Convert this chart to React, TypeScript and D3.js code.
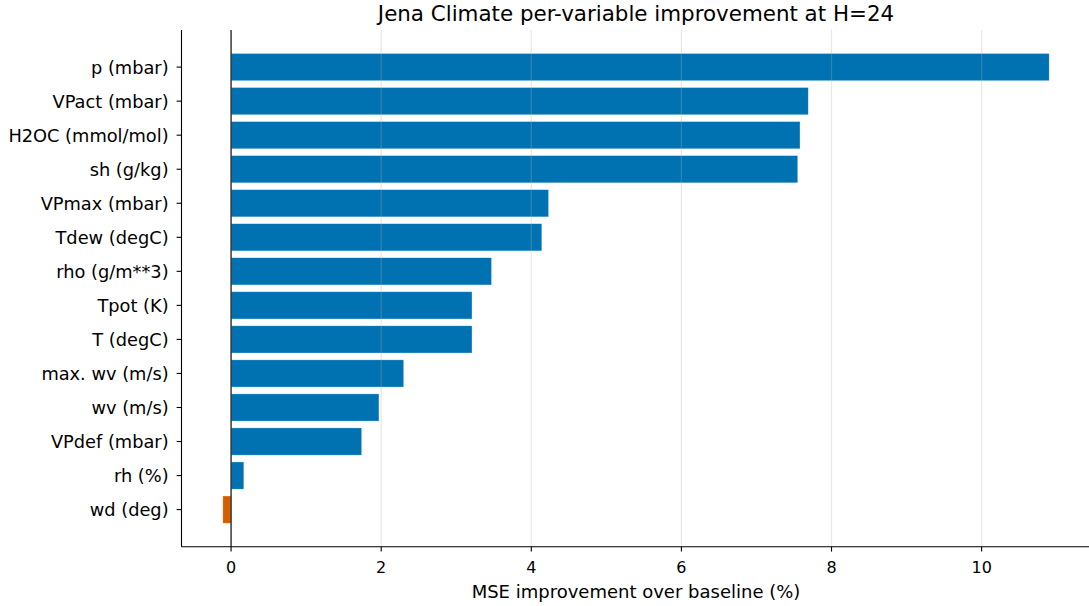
import React from "react";
import * as d3 from "d3";

// Per-variable MSE improvement (%) at horizon H=24, sorted largest first
const variables: string[] = [
  "p (mbar)",
  "VPact (mbar)",
  "H2OC (mmol/mol)",
  "sh (g/kg)",
  "VPmax (mbar)",
  "Tdew (degC)",
  "rho (g/m**3)",
  "Tpot (K)",
  "T (degC)",
  "max. wv (m/s)",
  "wv (m/s)",
  "VPdef (mbar)",
  "rh (%)",
  "wd (deg)",
];
const improvements: number[] = [
  10.9, 7.69, 7.58, 7.55, 4.23, 4.14, 3.47, 3.21, 3.21, 2.3, 1.97, 1.74, 0.17, -0.11,
];
const xTicks: number[] = [0, 2, 4, 6, 8, 10];

const W = 1089;
const H = 606;
const FONT = "DejaVu Sans, sans-serif";
const POS = "#0072B2";
const NEG = "#D55E00";

export default function App() {
  const left = 181.5;
  const right = 1090.5;
  const top = 30;
  const bottom = 546.7;

  const lo = Math.min(0, d3.min(improvements)!);
  const hi = Math.max(0, d3.max(improvements)!);
  const pad = (hi - lo) * 0.05;
  const x = d3.scaleLinear().domain([lo - pad, hi + pad]).range([left, right]);

  const barH = 0.8;
  const n = variables.length;
  const yPad = (n - 1 + barH) * 0.05;
  const y = d3
    .scaleLinear()
    .domain([-barH / 2 - yPad, n - 1 + barH / 2 + yPad])
    .range([top, bottom]);

  const tickLen = 4.9;

  return (
    <svg width={W} height={H} style={{ position: "absolute", left: 0, top: 0 }} fontFamily={FONT}>
      <rect width={W} height={H} fill="white" />
      <g>
        {improvements.map((v, i) => {
          const x0 = x(Math.min(0, v));
          const x1 = x(Math.max(0, v));
          const yc = y(i);
          const h = y(barH / 2) - y(-barH / 2);
          return (
            <rect
              key={variables[i]}
              x={x0}
              y={yc - h / 2}
              width={x1 - x0}
              height={h}
              fill={v >= 0 ? POS : NEG}
              stroke="white"
              strokeWidth={0.6}
              strokeOpacity={0.5}
            />
          );
        })}
      </g>
      {/* vertical grid */}
      <g>
        {xTicks.map((t) => (
          <line
            key={t}
            x1={x(t)}
            x2={x(t)}
            y1={top}
            y2={bottom}
            stroke="#b0b0b0"
            strokeOpacity={0.3}
            strokeWidth={1.2}
          />
        ))}
      </g>
      {/* zero reference line */}
      <line x1={x(0)} x2={x(0)} y1={top} y2={bottom} stroke="#222" strokeWidth={1.3} />
      {/* spines */}
      <line x1={left} x2={left} y1={top} y2={bottom} stroke="black" strokeWidth={1.1} />
      <line x1={left} x2={right} y1={bottom} y2={bottom} stroke="black" strokeWidth={1.1} />
      {/* y ticks */}
      <g>
        {variables.map((name, i) => (
          <g key={name} transform={`translate(0,${y(i)})`}>
            <line x1={left - tickLen} x2={left} stroke="black" strokeWidth={1.1} />
            <text x={left - tickLen - 8} dy="0.36em" textAnchor="end" fontSize={17.8} fill="black">
              {name}
            </text>
          </g>
        ))}
      </g>
      {/* x ticks */}
      <g>
        {xTicks.map((t) => (
          <g key={t} transform={`translate(${x(t)},${bottom})`}>
            <line y1={0} y2={tickLen} stroke="black" strokeWidth={1.1} />
            <text y={26.6} textAnchor="middle" fontSize={16} fill="black">
              {t}
            </text>
          </g>
        ))}
      </g>
      <text x={(left + right) / 2} y={598.3} textAnchor="middle" fontSize={18} fill="black">
        MSE improvement over baseline (%)
      </text>
      <text x={(left + right) / 2} y={20.5} textAnchor="middle" fontSize={21.4} fill="black">
        Jena Climate per-variable improvement at H=24
      </text>
    </svg>
  );
}
